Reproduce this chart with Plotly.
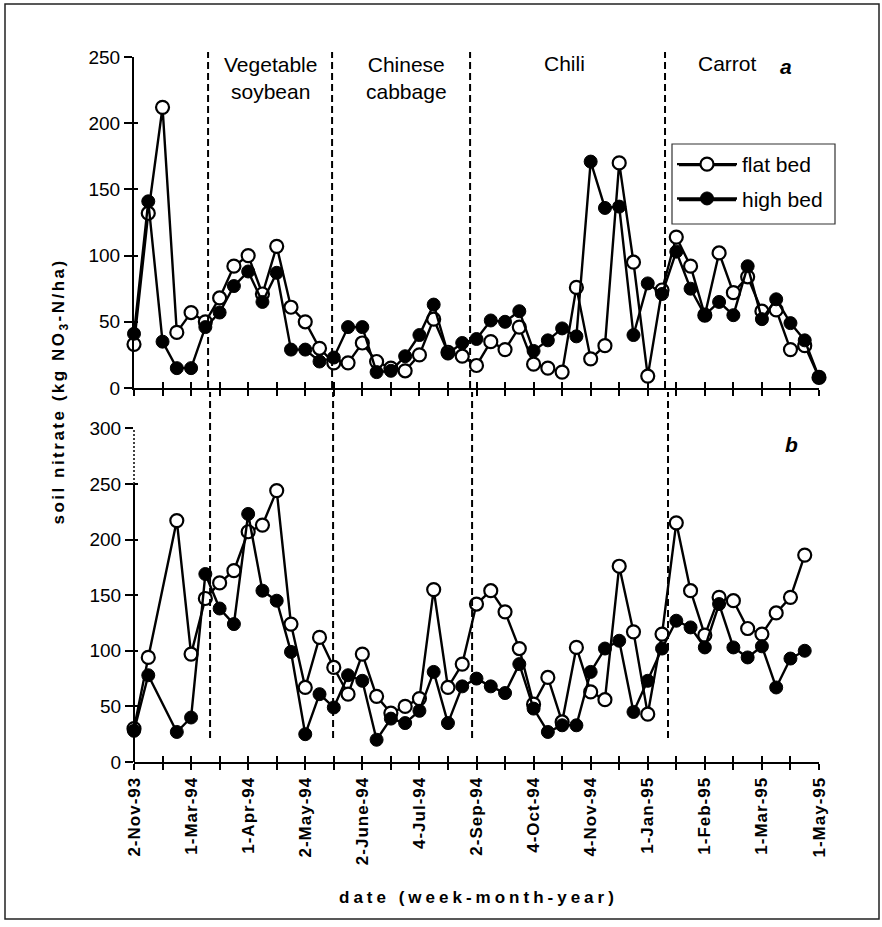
import plotly.graph_objects as go

# ---------------- data ----------------
week_index = list(range(49))
tick_labels = ["2-Nov-93", "1-Mar-94", "1-Apr-94", "2-May-94", "2-June-94", "4-Jul-94",
               "2-Sep-94", "4-Oct-94", "4-Nov-94", "1-Jan-95", "1-Feb-95", "1-Mar-95", "1-May-95"]

flat_bed_a = [33, 132, 212, 42, 57, 50, 68, 92, 100, 71, 107, 61, 50, 30, 19, 19, 34, 20, 15, 13,
              25, 52, 27, 24, 17, 35, 29, 46, 18, 15, 12, 76, 22, 32, 170, 95, 9, 74, 114, 92,
              55, 102, 72, 84, 58, 59, 29, 32, 8]
high_bed_a = [41, 141, 35, 15, 15, 46, 57, 77, 88, 65, 87, 29, 29, 20, 23, 46, 46, 12, 13, 24,
              40, 63, 26, 34, 37, 51, 50, 58, 28, 36, 45, 39, 171, 136, 137, 40, 79, 71, 103, 75,
              55, 65, 55, 92, 52, 67, 49, 36, 8]
flat_bed_b = [30, 94, None, 217, 97, 147, 161, 172, 207, 213, 244, 124, 67, 112, 85, 61, 97, 59, 44, 50,
              57, 155, 67, 88, 142, 154, 135, 102, 52, 76, 36, 103, 63, 56, 176, 117, 43, 115, 215, 154,
              114, 148, 145, 120, 115, 134, 148, 186, None]
high_bed_b = [28, 78, None, 27, 40, 169, 138, 124, 223, 154, 145, 99, 25, 61, 49, 78, 73, 20, 39, 35,
              46, 81, 35, 68, 75, 68, 62, 88, 48, 27, 33, 33, 81, 102, 109, 45, 73, 102, 127, 121,
              103, 142, 103, 94, 104, 67, 93, 100, None]
crop_names = ["Vegetable<br>soybean", "Chinese<br>cabbage", "Chili", "Carrot"]
series_names = ["flat bed", "high bed"]

# ---------------- layout helpers ----------------
W, H = 882, 927
ML, MR, MT, MB = 134, 63, 57, 165
PW, PH = W - ML - MR, H - MT - MB


def px(x):
    return (x - ML) / PW


def py(y):
    return (H - MB - y) / PH


FONT = "Liberation Sans, Arial, sans-serif"
top_dom = [py(388), 1.0]
bot_dom = [0.0, py(428.3)]

fig = go.Figure()

line_style = dict(color="black", width=2.4)
open_marker = dict(symbol="circle", size=13, color="white", line=dict(color="black", width=2.2))
fill_marker = dict(symbol="circle", size=13, color="black", line=dict(color="black", width=1))

for name, ys, mk, ax, show in [
    (series_names[0], flat_bed_a, open_marker, ("x", "y"), True),
    (series_names[1], high_bed_a, fill_marker, ("x", "y"), True),
    (series_names[0], flat_bed_b, open_marker, ("x2", "y2"), False),
    (series_names[1], high_bed_b, fill_marker, ("x2", "y2"), False),
]:
    fig.add_trace(go.Scatter(x=week_index, y=ys, mode="lines+markers", name=name,
                             line=line_style, marker=mk, xaxis=ax[0], yaxis=ax[1],
                             showlegend=show, legendgroup=name, connectgaps=True,
                             cliponaxis=False))

# dummy traces so overlay axes (crossing tick marks) are drawn
for xa, ya in [("x3", "y"), ("x4", "y2"), ("x", "y3"), ("x2", "y4")]:
    fig.add_trace(go.Scatter(x=[None], y=[None], xaxis=xa, yaxis=ya, showlegend=False,
                             hoverinfo="skip"))

all_ticks = list(range(0, 49, 2))
label_ticks = list(range(0, 49, 4))
minor_ticks = [t for t in all_ticks if t % 4 == 2]

axis_common = dict(showgrid=False, zeroline=False, linecolor="black", linewidth=2,
                   tickcolor="black", tickwidth=2, range=[0, 48])

fig.update_layout(
    width=W, height=H,
    margin=dict(l=ML, r=MR, t=MT, b=MB),
    paper_bgcolor="white", plot_bgcolor="white",
    font=dict(family=FONT, color="black"),
    showlegend=True,
    legend=dict(x=px(672), y=py(144), xanchor="left", yanchor="top",
                bgcolor="rgba(0,0,0,0)", borderwidth=0,
                font=dict(size=21, family=FONT), tracegroupgap=4,
                itemwidth=60),
    xaxis=dict(domain=[0, 1], anchor="y", showline=True, ticks="outside", ticklen=6,
               tickvals=all_ticks, showticklabels=False, **axis_common),
    xaxis3=dict(overlaying="x", anchor="y", showline=False, ticks="inside", ticklen=6,
                tickvals=all_ticks, showticklabels=False, showgrid=False, zeroline=False,
                tickcolor="black", tickwidth=2, range=[0, 48]),
    xaxis2=dict(domain=[0, 1], anchor="y2", showline=True, ticks="outside", ticklen=6,
                tickvals=label_ticks, ticktext=tick_labels, tickangle=-90,
                tickfont=dict(size=17, family=FONT, weight="bold"),
                minor=dict(tickmode="array", tickvals=minor_ticks, ticks="outside", ticklen=6,
                           tickwidth=2, tickcolor="black", showgrid=False),
                **axis_common),
    xaxis4=dict(overlaying="x2", anchor="y2", showline=False, ticks="inside", ticklen=6,
                tickvals=all_ticks, showticklabels=False, showgrid=False, zeroline=False,
                tickcolor="black", tickwidth=2, range=[0, 48]),
    yaxis=dict(domain=top_dom, anchor="x", range=[0, 250], tickvals=[0, 50, 100, 150, 200, 250],
               showline=True, linecolor="black", linewidth=2, ticks="outside", ticklen=8,
               tickwidth=2, tickcolor="black", showgrid=False, zeroline=False,
               tickfont=dict(size=19, family=FONT)),
    yaxis3=dict(overlaying="y", anchor="x", range=[0, 250], tickvals=[0, 50, 100, 150, 200, 250],
                showline=False, ticks="inside", ticklen=4, tickwidth=2, tickcolor="black",
                showticklabels=False, showgrid=False, zeroline=False),
    yaxis2=dict(domain=bot_dom, anchor="x2", range=[0, 300], tickvals=[0, 50, 100, 150, 200, 250, 300],
                showline=False, ticks="outside", ticklen=8, tickwidth=2, tickcolor="black",
                showgrid=False, zeroline=False, tickfont=dict(size=19, family=FONT)),
    yaxis4=dict(overlaying="y2", anchor="x2", range=[0, 300], tickvals=[0, 50, 100, 150, 200, 250, 300],
                showline=False, ticks="inside", ticklen=4, tickwidth=2, tickcolor="black",
                showticklabels=False, showgrid=False, zeroline=False),
)

shapes = []
# outer frame
shapes.append(dict(type="rect", xref="paper", yref="paper", x0=px(5), x1=px(879),
                   y0=py(919), y1=py(4), line=dict(color="#222", width=1.5)))
# legend frame and longer legend sample lines
shapes.append(dict(type="rect", xref="paper", yref="paper", x0=px(672), x1=px(835),
                   y0=py(224), y1=py(144), line=dict(color="#333", width=1.2)))
for ry in (165, 200):
    shapes.append(dict(type="line", xref="paper", yref="paper", x0=px(679), x1=px(736),
                       y0=py(ry), y1=py(ry), line=dict(color="black", width=2.4), layer="below"))
# bottom y-axis line: solid to 250, dotted above
shapes.append(dict(type="line", xref="paper", yref="y2", x0=0, x1=0, y0=0, y1=250,
                   line=dict(color="black", width=2)))
shapes.append(dict(type="line", xref="paper", yref="y2", x0=0, x1=0, y0=250, y1=300,
                   line=dict(color="black", width=1.5, dash="2px,2px")))
# crop phase boundaries
top_bounds = [5.19, 13.88, 23.55, 37.21]
bot_bounds = [5.33, 13.95, 23.69, 37.42]
for b in top_bounds:
    shapes.append(dict(type="line", xref="x", yref="paper", x0=b, x1=b, y0=py(388), y1=py(52),
                       line=dict(color="black", width=2, dash="7px,4px")))
for b in bot_bounds:
    shapes.append(dict(type="line", xref="x2", yref="paper", x0=b, x1=b, y0=py(738), y1=py(392),
                       line=dict(color="black", width=2, dash="7px,4px")))
fig.update_layout(shapes=shapes)

ann = []
crop_pos = [(270, 78), (406, 78), (564, 63), (727, 63)]
for name, (cx, cy) in zip(crop_names, crop_pos):
    ann.append(dict(text=name, x=px(cx), y=py(cy), xref="paper", yref="paper",
                    showarrow=False, font=dict(size=21, family=FONT), xanchor="center",
                    yanchor="middle"))
ann.append(dict(text="<b><i>a</i></b>", x=px(786), y=py(66), xref="paper", yref="paper",
                showarrow=False, font=dict(size=21, family=FONT), xanchor="center",
                yanchor="middle"))
ann.append(dict(text="<b><i>b</i></b>", x=px(791), y=py(444), xref="paper", yref="paper",
                showarrow=False, font=dict(size=21, family=FONT), xanchor="center",
                yanchor="middle"))
ann.append(dict(text="<b>date (week-month-year)</b>", x=px(478), y=py(897), xref="paper",
                yref="paper", showarrow=False, font=dict(size=17, family=FONT),
                xanchor="center", yanchor="middle"))
ann.append(dict(text="<b>soil nitrate (kg NO<sub>3</sub>-N/ha)</b>", x=px(60), y=py(392),
                xref="paper", yref="paper", showarrow=False, textangle=-90,
                font=dict(size=17, family=FONT), xanchor="center", yanchor="middle"))
fig.update_layout(annotations=ann)

post = """
var gd = document.getElementById('{plot_id}');
gd.querySelectorAll('.annotation-text').forEach(function(t){
  var s = t.textContent;
  if (s.indexOf('date') === 0) { t.style.letterSpacing = '4px'; }
  if (s.indexOf('soil') === 0) { t.style.letterSpacing = '2.5px'; }
});
gd.querySelectorAll('.x2tick text').forEach(function(t){ t.style.letterSpacing = '1px'; });
"""

fig.write_html("out.html", post_script=post)
